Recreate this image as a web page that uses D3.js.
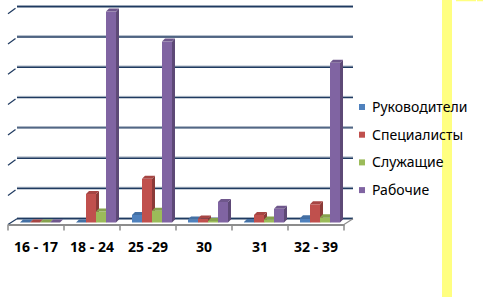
<!DOCTYPE html>
<html>
<head>
<meta charset="utf-8">
<script src="https://cdn.jsdelivr.net/npm/d3@7"></script>
<style>
  body { margin: 0; background: #fff; }
  svg { display: block; }
</style>
</head>
<body>
<div id="chart"></div>
<script>
const categories = ['16 - 17', '18 - 24', '25 -29', '30', '31', '32 - 39'];
const seriesNames = ['Руководители', 'Специалисты', 'Служащие', 'Рабочие'];
const rukovoditeli = [0, 0, 2.5, 1, 0.2, 1.4];
const specialisty = [0, 9.4, 14.4, 1.3, 2.5, 6];
const sluzhashchie = [0, 3.6, 3.9, 0.5, 1, 1.7];
const rabochie = [0, 69.6, 59.7, 6.8, 4.5, 52.7];
const gridTicks = [0, 10, 20, 30, 40, 50, 60, 70];

const series = [rukovoditeli, specialisty, sluzhashchie, rabochie];
const colors = ['#4F81BD', '#C0504D', '#9BBB59', '#8064A2'];

const width = 483;
const height = 298;
const depthY = 3.7;   // back wall shift
const barDepth = 3;
const barWidth = 10;

const svg = d3.select('#chart')
    .append('svg')
    .attr('width', width)
    .attr('height', height);

const xScale = d3.scaleBand()
    .domain(categories)
    .range([8, 344]);

const yScale = d3.scaleLinear()
    .domain([0, 70])
    .range([222.5, 10.4]);

// yellow stripe on the right
svg.append('rect')
    .attr('x', 442).attr('y', 0)
    .attr('width', 10).attr('height', height - 1)
    .attr('fill', '#FFFF80');
svg.append('line')
    .attr('x1', 456).attr('x2', 483)
    .attr('y1', 0.5).attr('y2', 0.5)
    .attr('stroke', '#FFFF80')
    .attr('stroke-width', 1.5)
    .attr('stroke-dasharray', '20,1');

// back wall gridlines
const grid = svg.append('g');
grid.selectAll('line.shadow')
    .data(gridTicks)
    .enter()
    .append('line')
    .attr('class', 'shadow')
    .attr('x1', 17).attr('x2', 353)
    .attr('y1', d => yScale(d) - depthY - 1.2)
    .attr('y2', d => yScale(d) - depthY - 1.2)
    .attr('stroke', '#9aa7b8')
    .attr('stroke-width', 1);
grid.selectAll('line.main')
    .data(gridTicks)
    .enter()
    .append('line')
    .attr('class', 'main')
    .attr('x1', 17).attr('x2', 353)
    .attr('y1', d => yScale(d) - depthY)
    .attr('y2', d => yScale(d) - depthY)
    .attr('stroke', '#1F3A60')
    .attr('stroke-width', 1.4);
// little slanted ticks on the left wall edge
grid.selectAll('line.slant')
    .data(gridTicks.slice(1))
    .enter()
    .append('line')
    .attr('class', 'slant')
    .attr('x1', 8).attr('x2', 15.5)
    .attr('y1', d => yScale(d) - depthY + 7)
    .attr('y2', d => yScale(d) - depthY + 1.5)
    .attr('stroke', '#1F3A60')
    .attr('stroke-width', 1.2);

// floor edges
svg.append('line')
    .attr('x1', 8).attr('y1', 224.5)
    .attr('x2', 17).attr('y2', yScale(0) - depthY)
    .attr('stroke', '#1F3A60').attr('stroke-width', 1.2);
svg.append('line')
    .attr('x1', 344).attr('y1', 224.5)
    .attr('x2', 353).attr('y2', yScale(0) - depthY)
    .attr('stroke', '#8c8c8c').attr('stroke-width', 1.2);

// 3D bars
const barsG = svg.append('g');
series.forEach((vals, si) => {
    const base = d3.color(colors[si]);
    const g = barsG.append('g');
    const x0 = c => xScale(c) + 12 + si * barWidth;
    // side face
    g.selectAll('path.side')
        .data(categories)
        .enter()
        .append('path')
        .attr('d', (c, i) => {
            const x = x0(c) + barWidth, y = yScale(vals[i]), yb = yScale(0);
            return `M${x},${y}L${x + barDepth},${y - barDepth}L${x + barDepth},${yb - barDepth}L${x},${yb}Z`;
        })
        .attr('fill', base.darker(0.9));
    // front face
    g.selectAll('rect')
        .data(categories)
        .enter()
        .append('rect')
        .attr('x', c => x0(c))
        .attr('y', (c, i) => yScale(vals[i]))
        .attr('width', barWidth)
        .attr('height', (c, i) => yScale(0) - yScale(vals[i]))
        .attr('fill', colors[si]);
    // top face
    g.selectAll('path.top')
        .data(categories)
        .enter()
        .append('path')
        .attr('d', (c, i) => {
            const x = x0(c), y = yScale(vals[i]);
            return `M${x},${y}L${x + barDepth},${y - barDepth}L${x + barWidth + barDepth},${y - barDepth}L${x + barWidth},${y}Z`;
        })
        .attr('fill', base.darker(0.4));
});

// front axis
const xAxis = d3.axisBottom(xScale)
    .tickSize(0)
    .tickPadding(18);

const axisG = svg.append('g')
    .attr('transform', 'translate(0,224.5)')
    .call(xAxis);
axisG.select('.domain')
    .attr('stroke', '#8c8c8c')
    .attr('stroke-width', 2);
axisG.selectAll('text')
    .attr('font-family', '"Noto Sans", sans-serif')
    .attr('font-size', 14)
    .attr('font-weight', 'bold')
    .attr('fill', '#000');
axisG.append('g')
    .selectAll('line')
    .data(categories.concat(['end']))
    .enter()
    .append('line')
    .attr('x1', (d, i) => i < categories.length ? xScale(d) : xScale.range()[1])
    .attr('x2', (d, i) => i < categories.length ? xScale(d) : xScale.range()[1])
    .attr('y1', 0).attr('y2', 6)
    .attr('stroke', '#8c8c8c')
    .attr('stroke-width', 1.5);

// legend
const legend = svg.append('g')
    .selectAll('g')
    .data(seriesNames)
    .enter()
    .append('g')
    .attr('transform', (d, i) => 'translate(359,' + (107 + i * 27.7) + ')');
legend.append('rect')
    .attr('x', 0).attr('y', -3)
    .attr('width', 6).attr('height', 6)
    .attr('fill', (d, i) => colors[i]);
legend.append('text')
    .attr('x', 13)
    .attr('y', 0)
    .attr('dy', '0.35em')
    .attr('font-family', '"Noto Sans", sans-serif')
    .attr('font-size', 14)
    .attr('fill', '#000')
    .text(d => d);
</script>
</body>
</html>
